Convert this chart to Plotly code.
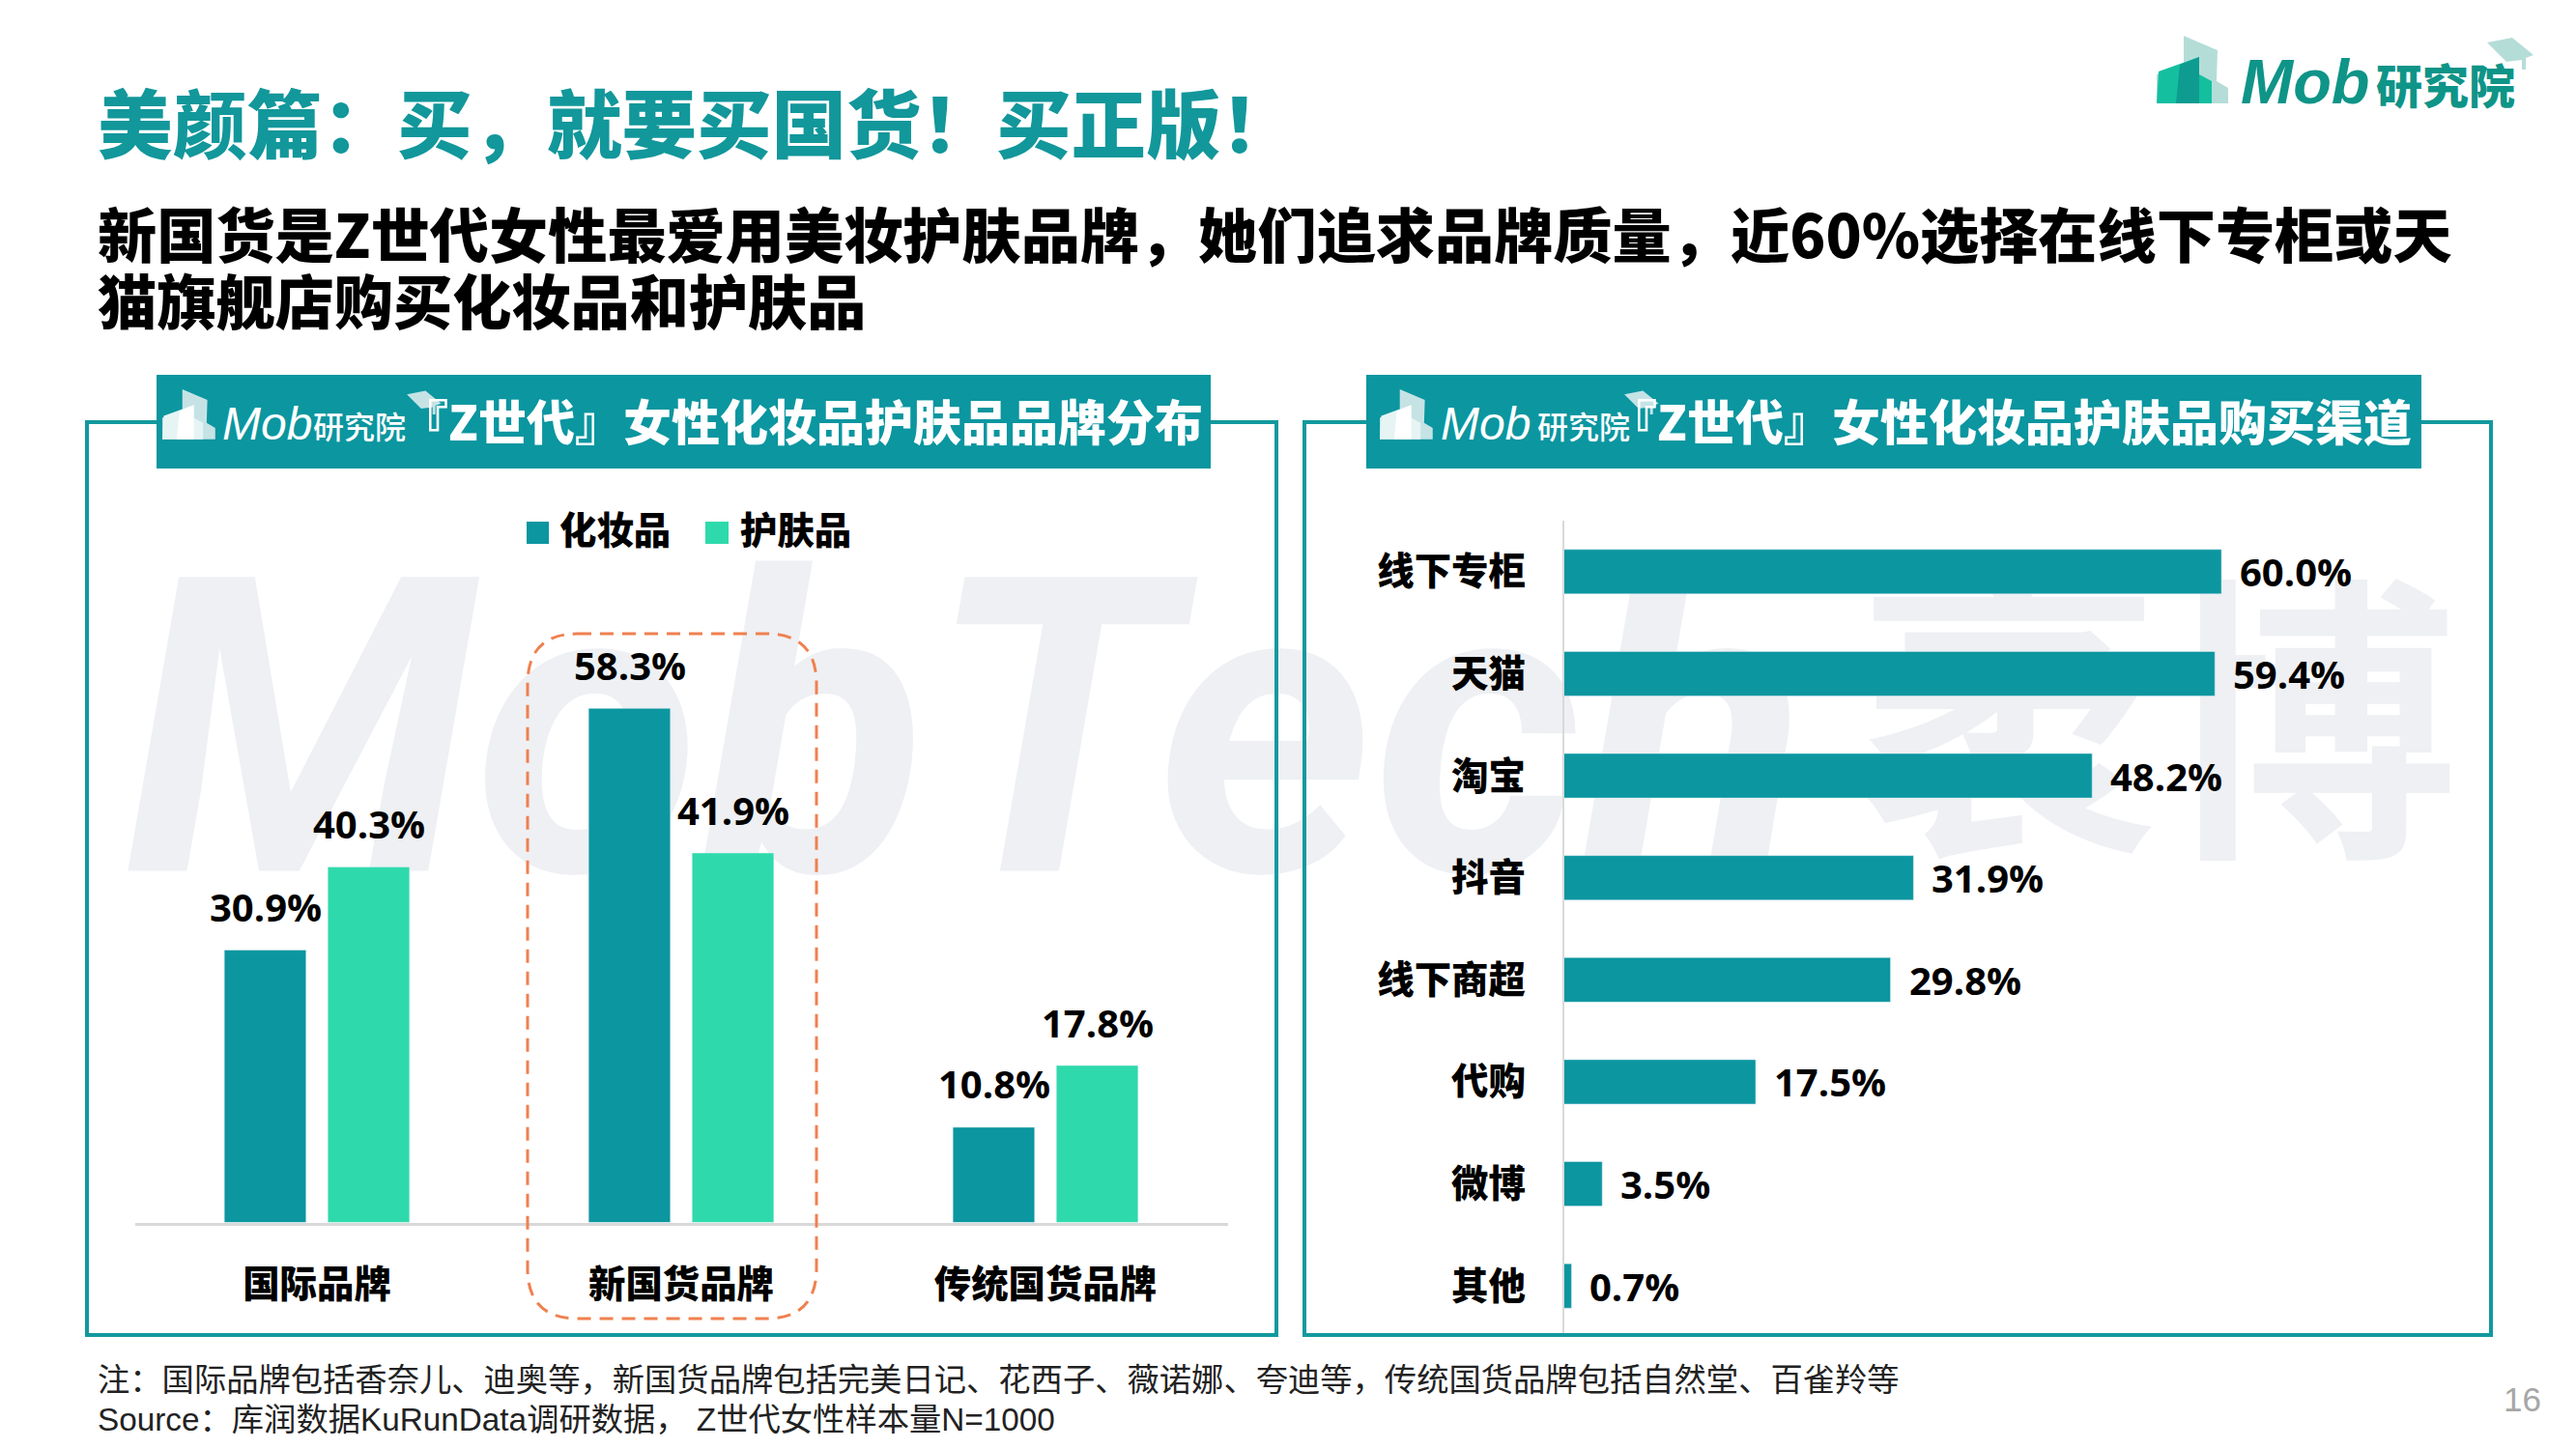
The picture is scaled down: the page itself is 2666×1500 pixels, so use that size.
import plotly.graph_objects as go

W, H = 2666, 1500
# the page keeps an 8px body margin around the plot
PAGE = 8
PW, PH = W - 2 * PAGE, H - 2 * PAGE
TEAL = "#0B96A0"
MINT = "#2EDAAB"
FRAME = "#12999E"
CN = "Noto Sans CJK SC"
NUM = "Open Sans"

title_text = "美颜篇\uff1a买\uff0c就要买国货\uff01买正版\uff01"
subtitle_lines = ["新国货是Z世代女性最爱用美妆护肤品牌\uff0c她们追求品牌质量\uff0c近60%选择在线下专柜或天",
                  "猫旗舰店购买化妆品和护肤品"]
left_header = "『Z世代』女性化妆品护肤品品牌分布"
right_header = "『Z世代』女性化妆品护肤品购买渠道"
note_text = ("注\uff1a国际品牌包括香奈儿、迪奥等\uff0c新国货品牌包括完美日记、花西子、薇诺娜、夸迪等\uff0c"
             "传统国货品牌包括自然堂、百雀羚等")
source_text = "Source\uff1a库润数据KuRunData调研数据\uff0c Z世代女性样本量N=1000"
page_number = "16"

brands = ["国际品牌", "新国货品牌", "传统国货品牌"]
makeup = [30.9, 58.3, 10.8]
skincare = [40.3, 41.9, 17.8]

channels = ["线下专柜", "天猫", "淘宝", "抖音", "线下商超", "代购", "微博", "其他"]
channel_share = [60.0, 59.4, 48.2, 31.9, 29.8, 17.5, 3.5, 0.7]


def fx(x):
    return (x - PAGE) / PW


def fy(y):
    return 1 - (y - PAGE) / PH


def path(points, close=True):
    d = "M" + "L".join(f"{fx(x):.5f},{fy(y):.5f}" for x, y in points)
    return d + ("Z" if close else "")


def poly(points, color):
    return dict(type="path", xref="paper", yref="paper", path=path(points), fillcolor=color, line_width=0)


def rect(x0, y0, x1, y1, **kw):
    return dict(type="rect", xref="paper", yref="paper", x0=fx(x0), x1=fx(x1), y0=fy(y0), y1=fy(y1), **kw)


def text(x, y, s, size, color="#000000", family=CN, weight=700, anchor="left", style="normal"):
    return dict(xref="paper", yref="paper", x=fx(x), y=fy(y), text=s, showarrow=False, xanchor=anchor, yanchor="middle",
                font=dict(family=family, size=size, color=color, weight=weight, style=style), borderpad=0)


def rounded_path(x0, y0, x1, y1, r):
    p = lambda x, y: f"{fx(x):.5f},{fy(y):.5f}"
    return (f"M{p(x0 + r, y0)}L{p(x1 - r, y0)}Q{p(x1, y0)} {p(x1, y0 + r)}L{p(x1, y1 - r)}Q{p(x1, y1)} {p(x1 - r, y1)}"
            f"L{p(x0 + r, y1)}Q{p(x0, y1)} {p(x0, y1 - r)}L{p(x0, y0 + r)}Q{p(x0, y0)} {p(x0 + r, y0)}Z")


def logo(ox, oy, k, back, front, mid, cap):
    # building and cap drawn in the coordinates of the top right logo
    def t(pts):
        return [(ox + k * x, oy + k * y) for x, y in pts]
    return [
        poly(t([(28, 0), (63, 15), (62, 47), (74, 54), (74, 70), (0, 70), (0, 40), (28, 28)]), back),
        poly(t([(0, 70), (2, 37), (44, 22), (44, 40), (57, 47), (57, 70)]), front),
        poly(t([(20, 70), (24, 30), (44, 22), (44, 70)]), mid),
        poly(t([(342, 7), (368, 2), (390, 20), (382, 23), (382, 35), (378, 35), (378, 25), (362, 27)]), cap),
    ]


fig = go.Figure()
fig.add_trace(go.Bar(x=brands, y=makeup, name="化妆品", marker_color=TEAL, xaxis="x", yaxis="y", showlegend=False))
fig.add_trace(go.Bar(x=brands, y=skincare, name="护肤品", marker_color=MINT, xaxis="x", yaxis="y", showlegend=False))
fig.add_trace(go.Bar(x=channel_share, y=channels, orientation="h", name="购买渠道", marker_color=TEAL, width=0.436,
                     xaxis="x2", yaxis="y2", showlegend=False))

shapes = [
    # watermark
    rect(125, 559, 1950, 889, layer="below", fillcolor="rgba(0,0,0,0)", line_width=0,
         label=dict(text="MobTech", textposition="middle left", padding=0,
                    font=dict(family="Roboto", size=428, color="#EEF0F3", weight=700, style="italic"))),
    rect(1921, 613, 2572, 943, layer="below", fillcolor="rgba(0,0,0,0)", line_width=0,
         label=dict(text="袤博", textposition="middle left", padding=0,
                    font=dict(family=CN, size=310, color="#EEF0F3", weight=700))),
    # panel frames
    rect(90, 437, 1321, 1382, line=dict(color=FRAME, width=4), fillcolor="rgba(0,0,0,0)"),
    rect(1350, 437, 2578, 1382, line=dict(color=FRAME, width=4), fillcolor="rgba(0,0,0,0)"),
    # header bands
    rect(162, 388, 1253, 485, fillcolor=TEAL, line_width=0),
    rect(1414, 388, 2506, 485, fillcolor=TEAL, line_width=0),
    # legend swatches
    rect(545, 540, 568, 563, fillcolor=TEAL, line_width=0),
    rect(730, 540, 754, 563, fillcolor=MINT, line_width=0),
    # highlight around the new domestic brands
    dict(type="path", xref="paper", yref="paper", path=rounded_path(546, 656, 845, 1365, 52),
         line=dict(color="#F0804F", width=3, dash="14px,9px"), fillcolor="rgba(0,0,0,0)"),
]
shapes += logo(2232, 37, 1.0, "#B5DDD8", "#14BFA0", "#0E9C90", "#B5DDD8")
shapes += logo(168, 403, 0.74, "#C5E3E5", "#E6F4F4", "#FFFFFF", "#C5E3E5")
shapes += logo(1428, 403, 0.74, "#C5E3E5", "#E6F4F4", "#FFFFFF", "#C5E3E5")

annotations = [
    text(100, 124, title_text, 77.5, color="#12979B", weight=900),
    text(100, 240, subtitle_lines[0], 61.2, weight=900),
    text(100, 310, subtitle_lines[1], 61.2, weight=900),
    text(2318, 84, "Mob", 65, color="#0F9488", family="Liberation Sans", style="italic"),
    text(2458, 86, "研究院", 48, color="#0F9488", weight=900),
    text(229, 438, "Mob", 48, color="#FFFFFF", family="Liberation Sans", weight=400, style="italic"),
    text(323, 440, "研究院", 32, color="#FFFFFF", weight=500),
    text(413, 434, left_header, 50, color="#FFFFFF", weight=900),
    text(1490, 438, "Mob", 48, color="#FFFFFF", family="Liberation Sans", weight=400, style="italic"),
    text(1590, 440, "研究院", 32, color="#FFFFFF", weight=500),
    text(1664, 434, right_header, 50, color="#FFFFFF", weight=900),
    text(578, 546, "化妆品", 38.4, weight=900),
    text(765, 546, "护肤品", 38.4, weight=900),
    text(100, 1428, note_text, 33.3, color="#222222", family=f"Liberation Sans, {CN}", weight=400),
    text(100, 1469, source_text, 33.3, color="#222222", family=f"Liberation Sans, {CN}", weight=400),
    text(2610, 1448, page_number, 35, color="#A6A6A6", family="Liberation Sans", weight=400, anchor="center"),
]

# value labels follow the bars through the data axes
for cat, a, b in zip(brands, makeup, skincare):
    for val, shift in ((a, -53.5), (b, 53.5)):
        annotations.append(dict(xref="x", yref="y", x=cat, y=val, text=f"{val:.1f}%", showarrow=False, xshift=shift,
                                yshift=45, xanchor="center", yanchor="middle",
                                font=dict(family=NUM, size=40, color="#000000", weight=700)))
for cat, val in zip(channels, channel_share):
    annotations.append(dict(xref="x2", yref="y2", x=val, y=cat, text=f"{val:.1f}%", showarrow=False, xshift=17,
                            yshift=0, xanchor="left", yanchor="middle",
                            font=dict(family=NUM, size=40, color="#000000", weight=700)))

fig.update_layout(
    width=PW, height=PH,
    margin=dict(l=0, r=0, t=0, b=0),
    paper_bgcolor="#FFFFFF",
    plot_bgcolor="rgba(0,0,0,0)",
    barmode="group",
    bargap=0.432,
    bargroupgap=0.21,
    shapes=shapes,
    annotations=annotations,
    xaxis=dict(domain=[fx(139.5), fx(1270.5)], anchor="y", showgrid=False, showline=True, linecolor="#D9D9D9",
               linewidth=3, ticks="", ticklabelstandoff=28,
               tickfont=dict(family=CN, size=38.4, color="#000000", weight=900)),
    yaxis=dict(domain=[fy(1265.5), fy(626.5)], anchor="x", range=[0, 70], visible=False),
    xaxis2=dict(domain=[fx(1618.5), fx(2412.5)], anchor="y2", range=[0, 70], visible=False),
    yaxis2=dict(domain=[fy(1384), fy(539)], anchor="x2", autorange="reversed", showgrid=False, showline=True,
                linecolor="#D9D9D9", linewidth=2, ticks="", ticklabelstandoff=30,
                tickfont=dict(family=CN, size=38.4, color="#000000", weight=900)),
)

fig.write_html("out.html")
